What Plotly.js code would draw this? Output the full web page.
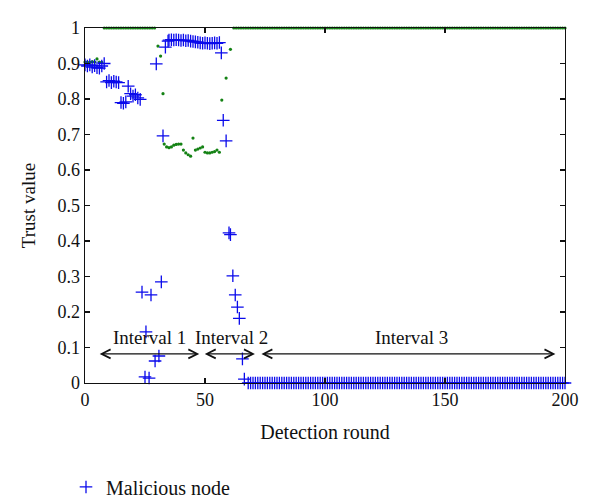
<!DOCTYPE html>
<html>
<head>
<meta charset="utf-8">
<script src="https://cdn.plot.ly/plotly-3.0.1.min.js"></script>
<style>html,body{margin:0;padding:0;background:#fff;}#chart{width:600px;height:502px;}</style>
</head>
<body>
<div id="chart"></div>
<script>
// Malicious node trust values (blue crosses)
const maliciousRounds = [
  0,1,2,3,4,5,6,7,8,9,10,11,12,13,14,15,16,17,18,19,20,21,22,23,
  23.75,25,25.4,26.7,27.5,29.2,29.7,30.8,31.8,32.5,33.5,34.6,
  35,36,37,38,39,40,41,42,43,44,45,46,47,48,49,50,51,52,53,54,55,56,
  56.8,57.6,58.8,60,60.6,61.6,62.6,63.5,64.3,65.6,66.4,
  68,69,70,71,72,73,74,75,76,77,78,79,80,81,82,83,84,85,86,87,
  88,89,90,91,92,93,94,95,96,97,98,99,100,101,102,103,104,105,106,107,
  108,109,110,111,112,113,114,115,116,117,118,119,120,121,122,123,124,125,126,127,
  128,129,130,131,132,133,134,135,136,137,138,139,140,141,142,143,144,145,146,147,
  148,149,150,151,152,153,154,155,156,157,158,159,160,161,162,163,164,165,166,167,
  168,169,170,171,172,173,174,175,176,177,178,179,180,181,182,183,184,185,186,187,
  188,189,190,191,192,193,194,195,196,197,198,199,200
];
const maliciousTrust = [
  0.896,0.893,0.896,0.890,0.894,0.888,0.887,0.893,0.900,0.848,0.852,0.846,0.850,0.848,0.846,0.790,0.788,0.792,0.836,0.815,0.808,0.812,0.803,0.799,
  0.256,0.017,0.144,0.014,0.248,0.062,0.899,0.076,0.285,0.696,0.946,0.963,
  0.966,0.967,0.966,0.967,0.966,0.965,0.966,0.964,0.965,0.963,0.962,0.961,0.960,0.958,0.957,0.958,0.957,0.956,0.957,0.958,0.957,0.959,
  0.930,0.740,0.682,0.423,0.418,0.302,0.248,0.214,0.182,0.068,0.011,
  0,0,0,0,0,0,0,0,0,0,0,0,0,0,0,0,0,0,0,0,
  0,0,0,0,0,0,0,0,0,0,0,0,0,0,0,0,0,0,0,0,
  0,0,0,0,0,0,0,0,0,0,0,0,0,0,0,0,0,0,0,0,
  0,0,0,0,0,0,0,0,0,0,0,0,0,0,0,0,0,0,0,0,
  0,0,0,0,0,0,0,0,0,0,0,0,0,0,0,0,0,0,0,0,
  0,0,0,0,0,0,0,0,0,0,0,0,0,0,0,0,0,0,0,0,
  0,0,0,0,0,0,0,0,0,0,0,0,0
];

// Normal node trust values (green dots)
const normalRounds = [
  0,1,2,3,4,5,6,7,
  8,9,10,11,12,13,14,15,16,17,18,19,20,21,22,23,24,25,26,27,28,29,
  30.4,31.5,32.5,
  33,34,35,36,37,38,39,40,41,42,43,44,45,46,47,48,49,50,51,52,53,54,55,56,
  57,58.8,60.6,
  62,63,64,65,66,67,68,69,70,71,72,73,74,75,76,77,78,79,80,81,
  82,83,84,85,86,87,88,89,90,91,92,93,94,95,96,97,98,99,100,101,
  102,103,104,105,106,107,108,109,110,111,112,113,114,115,116,117,118,119,120,121,
  122,123,124,125,126,127,128,129,130,131,132,133,134,135,136,137,138,139,140,141,
  142,143,144,145,146,147,148,149,150,151,152,153,154,155,156,157,158,159,160,161,
  162,163,164,165,166,167,168,169,170,171,172,173,174,175,176,177,178,179,180,181,
  182,183,184,185,186,187,188,189,190,191,192,193,194,195,196,197,198,199,200
];
const normalTrust = [
  0.904,0.904,0.903,0.905,0.904,0.913,0.904,0.903,
  1,1,1,1,1,1,1,1,1,1,1,1,1,1,1,1,1,1,1,1,1,1,
  0.949,0.921,0.815,
  0.673,0.665,0.663,0.665,0.670,0.672,0.673,0.673,0.656,0.648,0.643,0.639,0.690,0.656,0.659,0.662,0.665,0.650,0.648,0.648,0.650,0.652,0.656,0.650,
  0.797,0.859,0.940,
  1,1,1,1,1,1,1,1,1,1,1,1,1,1,1,1,1,1,1,1,
  1,1,1,1,1,1,1,1,1,1,1,1,1,1,1,1,1,1,1,1,
  1,1,1,1,1,1,1,1,1,1,1,1,1,1,1,1,1,1,1,1,
  1,1,1,1,1,1,1,1,1,1,1,1,1,1,1,1,1,1,1,1,
  1,1,1,1,1,1,1,1,1,1,1,1,1,1,1,1,1,1,1,1,
  1,1,1,1,1,1,1,1,1,1,1,1,1,1,1,1,1,1,1,1,
  1,1,1,1,1,1,1,1,1,1,1,1,1,1,1,1,1,1,1
];

// Interval labels and spans
const intervalLabels = ['Interval 1', 'Interval 2', 'Interval 3'];
const intervalLabelX = [27, 61, 136];
const intervalStart = [5.5, 49.3, 72.9];
const intervalEnd = [47.6, 70.8, 196];
const intervalLabelY = 0.127;
const intervalArrowY = 0.082;

const FONT = '"Liberation Serif", "Times New Roman", serif';

const traces = [
  {
    x: normalRounds, y: normalTrust, type: 'scatter', mode: 'markers',
    name: 'Normal node', showlegend: false, cliponaxis: false,
    marker: {symbol: 'circle', size: 3.2, color: 'rgb(20,130,20)'}
  },
  {
    x: maliciousRounds, y: maliciousTrust, type: 'scatter', mode: 'markers',
    name: 'Malicious node', cliponaxis: false,
    marker: {symbol: 'cross-thin-open', size: 9, color: 'rgb(10,10,235)', line: {width: 1.3, color: 'rgb(10,10,235)'}}
  }
];

const annotations = [];
intervalLabels.forEach((t, i) => {
  annotations.push({
    x: intervalLabelX[i], y: intervalLabelY, xref: 'x', yref: 'y',
    text: t, showarrow: false, font: {family: FONT, size: 19, color: '#111'}
  });
  annotations.push({
    x: intervalEnd[i], y: intervalArrowY, ax: intervalStart[i], ay: intervalArrowY,
    xref: 'x', yref: 'y', axref: 'x', ayref: 'y', text: '',
    showarrow: true, arrowside: 'end+start', arrowhead: 5, startarrowhead: 5,
    arrowsize: 1.6, startarrowsize: 1.6, arrowwidth: 1.1, arrowcolor: '#111',
    standoff: 0, startstandoff: 0
  });
});

const axisCommon = {
  showgrid: false, zeroline: false, showline: true, mirror: 'ticks',
  linecolor: '#111', linewidth: 1.3, ticks: 'inside', ticklen: 5, tickwidth: 1.2, tickcolor: '#111',
  tickfont: {family: FONT, size: 18, color: '#111'}
};

const layout = {
  width: 600, height: 502,
  margin: {l: 85, r: 35, t: 28, b: 119},
  paper_bgcolor: '#fff', plot_bgcolor: '#fff',
  font: {family: FONT, size: 18, color: '#111'},
  xaxis: Object.assign({}, axisCommon, {
    range: [0, 200], tickvals: [0, 50, 100, 150, 200],
    title: {text: 'Detection round', font: {family: FONT, size: 20, color: '#111'}, standoff: 16}
  }),
  yaxis: Object.assign({}, axisCommon, {
    range: [0, 1], dtick: 0.1, tick0: 0,
    title: {text: 'Trust value', font: {family: FONT, size: 19, color: '#111'}, standoff: 17}
  }),
  showlegend: true,
  legend: {
    orientation: 'h', x: 0.11, xref: 'container', xanchor: 'left',
    y: 0.03, yref: 'container', yanchor: 'middle',
    font: {family: FONT, size: 20, color: '#111'}, bgcolor: 'rgba(0,0,0,0)'
  },
  annotations: annotations
};

Plotly.newPlot('chart', traces, layout, {displayModeBar: false, staticPlot: true});
</script>
</body>
</html>
